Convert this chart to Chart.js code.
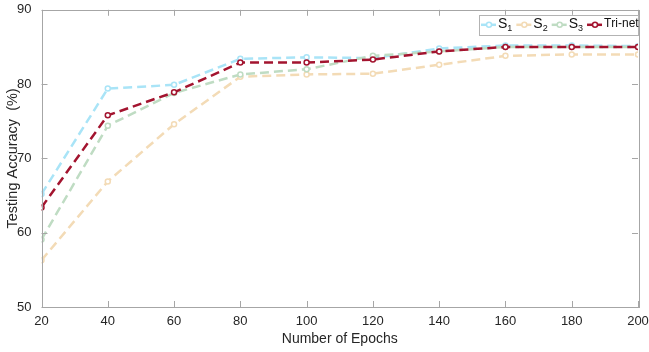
<!DOCTYPE html>
<html lang="en">
<head>
    <meta charset="UTF-8">
    <title>Testing Accuracy vs Epochs</title>
    <script src="https://cdn.jsdelivr.net/npm/chart.js"></script>
    <style>
        body { margin: 0; background: #fff; }
        .chartBox { width: 649px; height: 352px; }
    </style>
</head>
<body>
    <div class="chartBox">
        <canvas id="accChart" width="649" height="352"></canvas>
    </div>
    <script>
        // values
        const epochs = [20, 40, 60, 80, 100, 120, 140, 160, 180, 200];
        const s1 = [65.2, 79.4, 79.9, 83.4, 83.6, 83.5, 84.8, 85.2, 85.2, 85.1];
        const s2 = [56.3, 66.9, 74.6, 81.0, 81.3, 81.4, 82.6, 83.8, 84.0, 84.0];
        const s3 = [59.1, 74.4, 78.8, 81.3, 82.0, 83.8, 84.4, 85.0, 85.0, 85.0];
        const triNet = [63.4, 75.8, 78.9, 82.9, 82.9, 83.3, 84.4, 85.0, 85.0, 85.0];
        const seriesNames = ['S₁', 'S₂', 'S₃', 'Tri-net'];
        const yTicks = [50, 60, 70, 80, 90];
        const xTicks = [20, 40, 60, 80, 100, 120, 140, 160, 180, 200];

        const FONT = "'Liberation Sans', Arial, sans-serif";
        const colors = ['#a9e4f7', '#f3dbb6', '#bfdcc3', '#a3142f'];

        function makeSet(label, vals, color, order) {
            return {
                label: label,
                data: epochs.map((e, i) => ({ x: e, y: vals[i] })),
                borderColor: color,
                backgroundColor: '#ffffff',
                borderWidth: 2.5,
                borderDash: [9, 5],
                pointRadius: 2.5,
                pointBorderWidth: 1.5,
                pointBorderColor: color,
                pointBackgroundColor: '#ffffff',
                fill: false,
                tension: 0,
                order: order
            };
        }

        // frame with inward tick marks, like MATLAB axes
        const framePlugin = {
            id: 'frame',
            afterDraw(chart) {
                const { ctx, chartArea: a, scales } = chart;
                ctx.save();
                ctx.strokeStyle = '#a6a6a6';
                ctx.lineWidth = 1;
                ctx.strokeRect(Math.round(a.left) + 0.5, Math.round(a.top) + 0.5,
                    Math.round(a.right - a.left), Math.round(a.bottom - a.top));
                xTicks.forEach(v => {
                    const px = Math.round(scales.x.getPixelForValue(v)) + 0.5;
                    ctx.beginPath();
                    ctx.moveTo(px, a.bottom); ctx.lineTo(px, a.bottom - 6);
                    ctx.moveTo(px, a.top); ctx.lineTo(px, a.top + 6);
                    ctx.stroke();
                });
                yTicks.forEach(v => {
                    const py = Math.round(scales.y.getPixelForValue(v)) + 0.5;
                    ctx.beginPath();
                    ctx.moveTo(a.left, py); ctx.lineTo(a.left + 6, py);
                    ctx.moveTo(a.right, py); ctx.lineTo(a.right - 6, py);
                    ctx.stroke();
                });
                ctx.restore();
            }
        };

        // draw text, turning subscript digits into small lowered digits
        const subMap = { '₁': '1', '₂': '2', '₃': '3' };
        function drawLabel(ctx, text, x, y) {
            const hasSub = [...text].some(ch => subMap[ch]);
            for (const ch of text) {
                if (subMap[ch]) {
                    ctx.font = '9px ' + FONT;
                    ctx.fillText(subMap[ch], x, y + 5);
                    x += ctx.measureText(subMap[ch]).width;
                } else {
                    ctx.font = (hasSub ? '14px ' : '12px ') + FONT;
                    ctx.fillText(ch, x, y);
                    x += ctx.measureText(ch).width;
                }
            }
            return x;
        }

        // legend box inside the top right corner
        const legendPlugin = {
            id: 'insideLegend',
            afterDraw(chart) {
                const { ctx, chartArea: a } = chart;
                const bx = a.right - 159, by = a.top + 5, bw = 159, bh = 20;
                ctx.save();
                ctx.fillStyle = '#ffffff';
                ctx.fillRect(bx, by, bw, bh);
                ctx.strokeStyle = '#b3b3b3';
                ctx.lineWidth = 1;
                ctx.strokeRect(Math.round(bx) + 0.5, Math.round(by) + 0.5, bw, bh);
                let x = bx + 2;
                const cy = by + bh / 2;
                chart.data.datasets.forEach(ds => {
                    ctx.strokeStyle = ds.borderColor;
                    ctx.lineWidth = 2.5;
                    ctx.beginPath();
                    ctx.moveTo(x, cy); ctx.lineTo(x + 15, cy);
                    ctx.stroke();
                    ctx.beginPath();
                    ctx.lineWidth = 1.5;
                    ctx.fillStyle = '#ffffff';
                    ctx.arc(x + 8, cy, 2.5, 0, Math.PI * 2);
                    ctx.fill(); ctx.stroke();
                    ctx.fillStyle = '#111111';
                    ctx.textBaseline = 'middle';
                    x = drawLabel(ctx, ds.label, x + 17, cy - 1) + 4;
                });
                ctx.restore();
            }
        };

        new Chart(document.getElementById('accChart'), {
            type: 'line',
            data: {
                datasets: [
                    makeSet(seriesNames[0], s1, colors[0], 4),
                    makeSet(seriesNames[1], s2, colors[1], 3),
                    makeSet(seriesNames[2], s3, colors[2], 2),
                    makeSet(seriesNames[3], triNet, colors[3], 1)
                ]
            },
            options: {
                responsive: false,
                animation: false,
                maintainAspectRatio: false,
                layout: { padding: { top: 7, right: 11, left: 0, bottom: 0 } },
                plugins: {
                    legend: { display: false },
                    tooltip: { enabled: false }
                },
                scales: {
                    x: {
                        type: 'linear',
                        min: 20, max: 200,
                        afterBuildTicks: s => { s.ticks = xTicks.map(v => ({ value: v })); },
                        afterFit: s => { s.height = 45; },
                        grid: { display: false },
                        border: { display: false },
                        ticks: { color: '#262626', font: { family: FONT, size: 13 }, padding: -1, maxRotation: 0 },
                        title: { display: true, text: 'Number of Epochs', color: '#262626',
                                 font: { family: FONT, size: 14 }, padding: { top: 2, bottom: 4 } }
                    },
                    y: {
                        min: 50, max: 90,
                        afterBuildTicks: s => { s.ticks = yTicks.map(v => ({ value: v })); },
                        afterFit: s => { s.width = 41.5; },
                        grid: { display: false },
                        border: { display: false },
                        ticks: { color: '#262626', font: { family: FONT, size: 13 }, padding: 2 },
                        title: { display: true, text: 'Testing Accuracy  (%)', color: '#262626',
                                 font: { family: FONT, size: 14.5 }, padding: { bottom: 0 } }
                    }
                }
            },
            plugins: [framePlugin, legendPlugin]
        });
    </script>
</body>
</html>
